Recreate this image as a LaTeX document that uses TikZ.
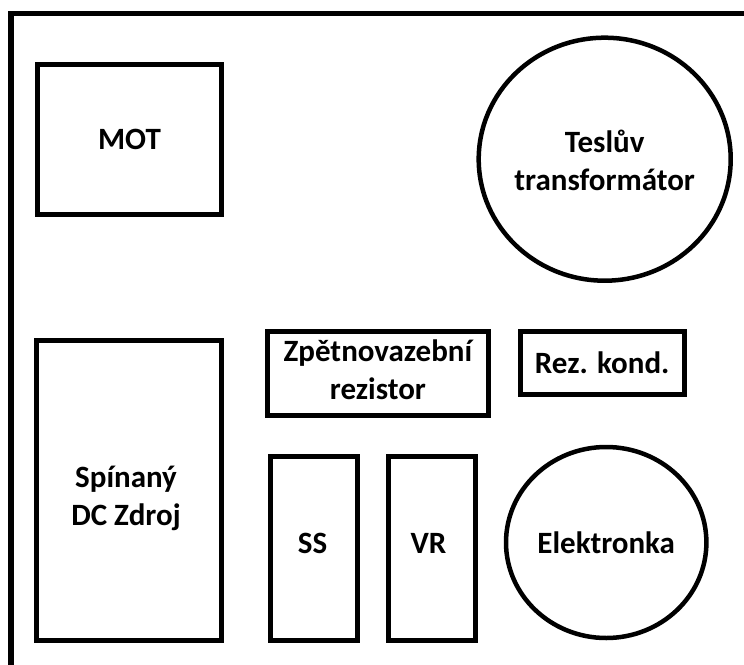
\documentclass[tikz,border=0pt]{standalone}
\usepackage{fontspec}
\setmainfont{Carlito}
\usetikzlibrary{shapes.geometric}
\begin{document}
\begin{tikzpicture}[x=1pt,y=-1pt,
  lbl/.style={font=\fontsize{31}{38}\selectfont\bfseries, align=center, inner sep=0pt},
  box/.style={lbl, draw, line width=5pt, minimum width=#1},
  ring/.style={line width=4.5pt}]
\useasboundingbox (0,0) rectangle (744,664);
\begin{scope}
\clip (0,0) rectangle (744,664);
\draw[line width=5.5pt] (11,680) -- (11,13.5) -- (760,13.5);
\end{scope}
\node[box=184, minimum height=150] (mot) at (129.5,139.5) {MOT};
\node[box=185, minimum height=300] (psu) at (129,490) {};
\node[lbl] (psutext) at (126,498) {Spínaný\\DC Zdroj};
\node[box=220.7, minimum height=84] (fb) at (377.9,373.8) {};
\node[lbl] (fbtext) at (377.9,370) {Zpětnovazební\\rezistor};
\node[box=86.7, minimum height=183.7] (ss) at (314.2,548.3) {};
\node[lbl, anchor=base] (sstext) at (312.5,553) {SS};
\node[box=86.7, minimum height=183.7] (vr) at (431.8,548.3) {};
\node[lbl, anchor=base] (vrtext) at (428.5,553) {VR};
\node[box=164, minimum height=62.7] (rez) at (602.2,362.8) {Rez. kond.};
\node[lbl] (tesla) at (604.7,160) {Teslův\\transformátor};
\draw[ring] (604.7,159.2) ellipse [x radius=126, y radius=121.5];
\node[lbl] (tube) at (606.2,542.5) {Elektronka};
\draw[ring] (tube.center) ellipse [x radius=100.2, y radius=95.5];
\end{tikzpicture}
\end{document}
